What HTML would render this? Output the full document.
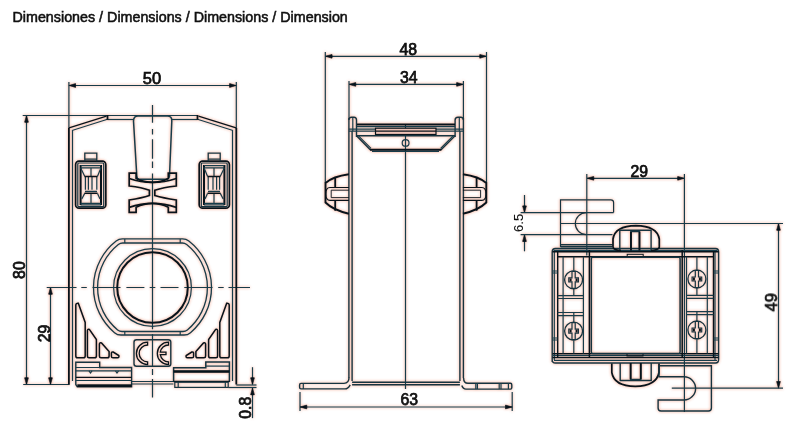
<!DOCTYPE html>
<html><head><meta charset="utf-8">
<style>
html,body{margin:0;padding:0;background:#fff;width:800px;height:435px;overflow:hidden}
svg{position:absolute;left:0;top:0}
text{font-family:"Liberation Sans",sans-serif;fill:#111;stroke:#111;stroke-width:0.75}
.t{fill:none;stroke:#173c4a;stroke-width:1.2}
.m{fill:none;stroke:#163440;stroke-width:1.4}
.k{fill:none;stroke:#08131b;stroke-width:1.8}
</style></head><body>
<svg width="800" height="435" viewBox="0 0 800 435">
<defs>
<marker id="ar" viewBox="-0.5 -0.5 8 5.4" refX="7" refY="2.2" markerWidth="8" markerHeight="5.4" markerUnits="userSpaceOnUse" orient="auto-start-reverse">
<path d="M0.3,0.3 L7,2.2 L0.3,4.1 Q-0.2,2.2 0.3,0.3 z" fill="#08131b" stroke="#08131b" stroke-width="0.6" stroke-linejoin="round"/></marker>
<filter id="halo" x="-2%" y="-2%" width="104%" height="104%" color-interpolation-filters="sRGB">
<feGaussianBlur in="SourceAlpha" stdDeviation="1.5" result="b"/>
<feComponentTransfer in="b" result="b2"><feFuncA type="linear" slope="2.4"/></feComponentTransfer>
<feFlood flood-color="#f7bba8" flood-opacity="0.65"/>
<feComposite in2="b2" operator="in" result="p"/>
<feMerge><feMergeNode in="p"/><feMergeNode in="SourceGraphic"/></feMerge>
</filter>
</defs>
<g filter="url(#halo)">


<!-- ===================== LEFT VIEW ===================== -->
<g class="t">
<!-- dim 50 -->
<line x1="68.9" y1="85.5" x2="236.3" y2="85.5" marker-start="url(#ar)" marker-end="url(#ar)"/>
<line x1="68.9" y1="82" x2="68.9" y2="128"/>
<line x1="236.3" y1="82" x2="236.3" y2="128"/>
<!-- dim 80 -->
<line x1="26.5" y1="115.5" x2="26.5" y2="384.5" marker-start="url(#ar)" marker-end="url(#ar)"/>
<line x1="22.7" y1="115.5" x2="107.5" y2="115.5"/>
<line x1="107.5" y1="115.5" x2="197.5" y2="115.5"/>
<line x1="23.2" y1="384.5" x2="69.5" y2="384.5"/>
<!-- dim 29 -->
<line x1="50.5" y1="287.5" x2="50.5" y2="384.5" marker-start="url(#ar)" marker-end="url(#ar)"/>
<path d="M46.7,287.5 H76.5 M81.3,287.5 H86.8 M92.5,287.5 H120.5 M126.4,287.5 H144.4 M149.7,287.5 H155.3 M160.5,287.5 H178.5 M184.3,287.5 H212.5 M218.2,287.5 H223.7 M228.5,287.5 H250"/>
<!-- vertical centre line -->
<path d="M152.5,105 V122.8 M152.5,129 V134.5 M152.5,139.3 V158.7 M152.5,161.5 V168 M152.5,173.4 V329.3 M152.5,334 V366 M152.5,369 V375 M152.5,379 V397.5"/>
<!-- body inner -->
<line x1="72.5" y1="130.3" x2="72.5" y2="381"/>
<line x1="232.5" y1="130.3" x2="232.5" y2="381"/>
<line x1="72" y1="130.5" x2="107.5" y2="119.3"/>
<line x1="233" y1="130.5" x2="197.5" y2="119.3"/>
<line x1="107.5" y1="119.5" x2="133" y2="119.5"/>
<line x1="172" y1="119.5" x2="197.5" y2="119.5"/>
<!-- tab -->
<path style="stroke-width:1.5" d="M133.5,121 Q133.5,116 138,116 L167.5,116 Q172,116 171.8,121 L169.5,176 Q169,179.3 166,179.3 L139.5,179.3 Q137,179.3 136.8,176 Z"/>
<!-- ring -->
<path d="M122.32,238.90 H182.68 A10,10 0 0 1 188.84,241.02 A59,59 0 0 1 190.48,332.65 A10,10 0 0 1 184.04,335.00 H120.96 A10,10 0 0 1 114.52,332.65 A59,59 0 0 1 116.16,241.02 A10,10 0 0 1 122.32,238.90 Z" style="stroke-width:1.3"/>
<path d="M122.70,243.00 H182.30 A7,7 0 0 1 186.66,244.52 A54.9,54.9 0 0 1 187.37,329.91 A7,7 0 0 1 182.92,331.50 H122.08 A7,7 0 0 1 117.63,329.91 A54.9,54.9 0 0 1 118.34,244.52 A7,7 0 0 1 122.70,243.00 Z" style="stroke-width:1.3"/>
<path d="M124.8,238.9 V243 M180.2,238.9 V243 M124.8,331.5 V335 M180.2,331.5 V335"/>
<circle cx="152.5" cy="287.5" r="38.9"/>
<!-- base lines -->
<line x1="131.6" y1="381.5" x2="173.4" y2="381.5"/>
<line x1="131.6" y1="384" x2="173.4" y2="384"/>
<!-- 0.8 dim -->
<line x1="252.5" y1="367.2" x2="252.5" y2="384.5" marker-end="url(#ar)"/>
<line x1="252.5" y1="418.1" x2="252.5" y2="388" marker-end="url(#ar)"/>
<line x1="236.3" y1="385" x2="256.5" y2="385"/>
<line x1="228.4" y1="387.5" x2="256.5" y2="387.5"/>
</g>
<g class="k">
<!-- body outer -->
<path d="M68.9,128 V384.5"/>
<path d="M236.3,128 V384.5"/>
<line x1="69" y1="127.9" x2="106.5" y2="116.2" style="stroke-width:1.4"/>
<line x1="107.5" y1="115" x2="107.5" y2="119.8"/>
<line x1="236.1" y1="127.9" x2="198.5" y2="116.2" style="stroke-width:1.4"/>
<line x1="197.5" y1="115" x2="197.5" y2="119.8"/>
<!-- hole -->
<circle cx="152.5" cy="287.5" r="35.3" style="stroke-width:2"/>
<!-- X clip -->
<path d="M129.2,173.2 H136.1 V178.5 Q152.5,186.3 168.3,178.5 V173.2 H176.3 V186 Q163,187.5 154.8,190.2 V195.5 Q163,198 176.3,200 V212.3 H168.3 V207.3 Q152.5,199.6 136.1,207.3 V212.3 H129.2 V200 Q142,198 149.4,195.5 V190.2 Q142,187.5 129.2,186 Z" style="stroke-width:1.7"/>
<path d="M129.2,178.5 Q152.5,186.3 176.3,178.5" style="stroke-width:1.8"/>
<path d="M129.2,207.3 Q152.5,199.6 176.3,207.3" style="stroke-width:1.8"/>
</g>
<!-- terminals -->
<g id="term">
<rect class="k" x="75.6" y="161.2" width="30.2" height="47" rx="3.5" style="stroke-width:1.7"/>
<rect class="m" x="77.8" y="163" width="25.9" height="43.7" rx="1" style="stroke-width:1.2"/>
<path class="m" d="M84.8,161.2 V153.2 H96.8 V161.2 M84.8,159.2 H96.8" style="stroke-width:1.3"/>
<path class="k" d="M80.6,165 V205 M101,165 V205" style="stroke-width:2"/>
<path class="t" d="M80.6,165.6 H101 M80.6,167.8 H101 L97.5,176.3 M80.6,167.8 L84.7,176.3 M85.4,176.3 V189.8 M96.8,176.3 V189.8 M88.4,176.3 V189.8 M92,176.3 V189.8 M85,191.3 H97 M80.6,203.3 H101 M80.6,204.8 H101 M84.7,193.4 L81.8,199 M97.5,193.4 L100,199 M91,167.8 V176.3 M91,193.4 V204"/>
<path class="k" d="M84.5,176.5 H97.5 M84.5,193.3 H97.5" style="stroke-width:1.5"/>
</g>
<use href="#term" transform="translate(305,0) scale(-1,1)"/>
<!-- ribs -->
<g id="ribs" class="k" style="stroke-width:1.5">
<path d="M75.8,356 V305 Q76,303 78.3,303.3 L85.2,322.4 V356 Q85.2,357.8 83.5,357.8 H77.5 Q75.8,357.8 75.8,356 Z"/>
<path d="M87.4,356 V330.5 Q87.6,328.8 89.5,329.5 L96.4,339.6 V356 Q96.4,357.8 94.7,357.8 H89 Q87.4,357.8 87.4,356 Z"/>
<path d="M99.4,356 V344 Q99.6,342.3 101.5,343 L109.1,351.6 V356 Q109.1,357.8 107.4,357.8 H101 Q99.4,357.8 99.4,356 Z"/>
<path d="M111.4,356.2 V353 Q111.6,351.6 113.2,352 L118.8,355.5 Q119.5,357.8 117.5,357.8 H113 Q111.4,357.8 111.4,356.2 Z"/>
</g>
<use href="#ribs" transform="translate(305,0) scale(-1,1)"/>
<!-- CE -->
<rect class="m" x="134" y="339.7" width="36.8" height="26.5" rx="2.5"/>
<path class="k" style="stroke-width:1.3" d="M147.6,342.2 A11.2,11.2 0 0 0 147.6,364.6 L147.6,361.8 A8.4,8.4 0 0 1 147.6,345 Z"/>
<path class="k" style="stroke-width:1.3" d="M168.5,342.2 A11.2,11.2 0 0 0 168.5,364.6 L168.5,361.8 A8.4,8.4 0 0 1 160.3,354.6 L166,354.6 L166,352.2 L160.3,352.2 A8.4,8.4 0 0 1 168.5,345 Z"/>
<!-- feet -->
<g id="foot">
<path class="m" d="M75.8,384.5 V362.3 H99.7 V367.5 H131.6 V386.8 H77.3 Z"/>
<path class="t" d="M75.8,367.5 H99.7 M75.8,370.8 H131.6 M75.8,380.5 H131.6"/>
<path class="k" d="M76,377.3 H131.6" style="stroke-width:1.3"/>
<rect x="77.3" y="384.3" width="54.3" height="2.7" fill="#08131b" stroke="none"/>
<path class="t" d="M89,370.8 L90.5,373 L92,370.8 M115.5,370.8 L117,373 L118.5,370.8"/>
</g>
<path class="m" d="M173.6,382 V367.8 H205.8 V362 H229.4 V382" style="stroke-width:1.5"/>
<path class="t" d="M205.8,366.1 H229.4"/>
<rect x="173.6" y="370.2" width="55.8" height="2.6" fill="#08131b" stroke="none"/>
<path class="k" d="M173.6,381.6 H229.4" style="stroke-width:1.5"/>
<rect class="m" x="174.8" y="382.2" width="53.4" height="5.2" style="stroke-width:1.2"/>
<path class="t" d="M178.2,382 V387.4 M225.3,382 V387.4"/>

<!-- ===================== MIDDLE VIEW ===================== -->
<g class="t">
<line x1="325.3" y1="56.3" x2="486.5" y2="56.3" marker-start="url(#ar)" marker-end="url(#ar)"/>
<line x1="325.3" y1="52" x2="325.3" y2="183"/>
<line x1="486.5" y1="52" x2="486.5" y2="183"/>
<line x1="349" y1="84.4" x2="463.4" y2="84.4" marker-start="url(#ar)" marker-end="url(#ar)"/>
<line x1="349" y1="81" x2="349" y2="118"/>
<line x1="463.4" y1="81" x2="463.4" y2="118"/>
<line x1="405.5" y1="125" x2="405.5" y2="389"/>
<line x1="300" y1="392" x2="300" y2="411"/>
<line x1="512.2" y1="392" x2="512.2" y2="411"/>
<line x1="300" y1="407" x2="512.2" y2="407" marker-start="url(#ar)" marker-end="url(#ar)"/>
</g>
<g class="m">
<line x1="348.9" y1="118" x2="348.9" y2="378"/>
<line x1="352.1" y1="131" x2="352.1" y2="381"/>
<line x1="459.9" y1="131" x2="459.9" y2="381"/>
<line x1="463.4" y1="118" x2="463.4" y2="378"/>
<!-- tabs -->
<path d="M348.9,120 Q348.9,117.2 351.5,117.2 L354,117.2 Q356.5,117.2 356.5,120 V137"/>
<path d="M463.4,120 Q463.4,117.2 460.8,117.2 L458,117.2 Q455.1,117.2 455.1,120 V137"/>
<path class="t" d="M352.8,118 V131 M459.3,118 V131 M348.9,129.1 H356.5 M348.9,131.2 H356.5 M455.1,129.1 H463.4 M455.1,131.2 H463.4"/>
<!-- header -->
<path class="t" d="M356.5,129.1 H375.5 M436,129.1 H455.1 M356.5,131.2 H375.5 M436,131.2 H455.1 M357,126.6 H455"/>
<rect x="375.5" y="128.2" width="60.5" height="6.3" fill="#eec2b6" stroke="#08131b" style="stroke-width:1.2"/>
<path class="k" d="M375.5,131.2 H436" style="stroke-width:1.2"/>
<path d="M356.5,135.8 H455.1"/>
<path class="k" d="M357,124.6 H455" style="stroke-width:2"/>
<path d="M356.5,135.8 L370,149.6 H441.3 L455.1,135.8"/>
<path class="t" d="M358.5,135.8 L371,148.3 M453.1,135.8 L440.6,148.3"/>
<path class="k" d="M370,149.8 H441.3" style="stroke-width:1.9"/>
<path class="t" d="M372,151.4 H439"/>
<ellipse class="t" cx="405.6" cy="142.9" rx="3.4" ry="3.3"/>
<!-- base -->
<path d="M352.1,382.2 H459.9 M352.1,384.8 H459.9"/>
<path d="M349,377.6 Q349,383.4 344,383.4 H301 Q299.6,383.4 299.6,385 V387.3 Q299.6,388.9 301,388.9 H345 Q348,388.9 350.2,384.8"/>
<path d="M463.6,378 Q463.6,383.3 468,383.3 H510.5 Q511.8,383.3 511.8,385 V387.5 Q511.8,389.1 510.5,389.1 H466 Q463,389.1 461.8,385.5"/>
<path class="t" d="M303.3,383.4 V388.9 M475.8,383.3 V389.1 M477.4,383.3 V389.1 M499.2,383.3 V389.1 M501,383.3 V389.1 M508.4,383.3 V389.1"/>
</g>
<!-- side clips -->
<g id="clipL">
<path class="k" d="M348.9,174.3 Q333,176.5 325.5,183 V202.5 Q333,210 348.9,213.7" style="stroke-width:1.9"/>
<path class="k" d="M335.2,178 V187.6 M335.2,200.3 V210.8" style="stroke-width:1.8"/>
<path class="k" d="M348.9,187.5 H330 Q325.8,187.5 325.8,193.9 Q325.8,200.3 330,200.3 H348.9" style="stroke-width:1.15"/>
<path class="k" d="M331.2,190.2 H348.9 M331.2,197.6 H348.9 M331.2,190.2 V197.6" style="stroke-width:0.9"/>
</g>
<use href="#clipL" transform="translate(811.8,0) scale(-1,1)"/>

<!-- ===================== RIGHT VIEW ===================== -->
<g class="t">
<line x1="587" y1="178.3" x2="684.4" y2="178.3" marker-start="url(#ar)" marker-end="url(#ar)"/>
<line x1="586.8" y1="174" x2="586.8" y2="255.5"/>
<line x1="684.4" y1="174" x2="684.4" y2="412"/>
<line x1="524.5" y1="195" x2="524.5" y2="212.6" marker-end="url(#ar)"/>
<line x1="524.5" y1="251.3" x2="524.5" y2="234.7" marker-end="url(#ar)"/>
<line x1="520.6" y1="212.6" x2="613.6" y2="212.6"/>
<line x1="520.6" y1="234.6" x2="612.5" y2="234.6"/>
<line x1="778.5" y1="223.5" x2="778.5" y2="388.2" marker-start="url(#ar)" marker-end="url(#ar)"/>
<line x1="561" y1="223.5" x2="783" y2="223.5"/>
<line x1="671.8" y1="388.2" x2="783" y2="388.2"/>
</g>
<g class="m">
<!-- top hook plate -->
<path style="stroke-width:1.2" d="M560.5,247 V199.8 H610.8 Q613.6,199.8 613.6,202.6 V212.6"/>
<path style="stroke-width:1.2" d="M586.3,212.6 A11,11 0 0 0 586.3,234.6"/>
<path d="M560.5,244.7 H612.5 M560.5,246.7 H612.5"/>
<!-- body -->
<path d="M552.2,362 V252 Q552.2,248.5 555.5,248.5 H715.5 Q718.6,248.5 718.6,252 V359.5 Q718.6,363 715.5,363 H555.5 Q552.2,363 552.2,360"/>
<path class="t" d="M553.5,250.3 H717.5 M553,355.5 H718 M554,360.3 H717 M554.3,252 V360 M715,252 V360"/>
</g>
<g class="k">
<path d="M552.5,251.8 H718.5 M557.7,256.8 H714 M557.7,251.8 V357.5 M713.5,251.8 V357.5 M552.5,357.5 H718.5 M552.5,353.8 H718.5" style="stroke-width:1.4"/>
<rect x="627.2" y="254.3" width="16" height="2.5" style="stroke-width:1"/>
<rect x="627" y="353.5" width="16" height="2.5" style="stroke-width:1"/>
</g>
<g class="m">
<!-- window -->
<rect x="591.3" y="257.3" width="88.8" height="96.2" rx="1.5" style="stroke-width:1.5"/>
<path class="k" d="M589.4,250 V358 M682.2,250 V358" style="stroke-width:1.5"/>
<!-- terminal columns -->
<path class="t" d="M563.1,256.8 V353.5 M583.4,256.8 V353.5 M573.8,256.8 V270.5 M573.8,289 V296 M573.8,312.5 V322 M573.8,340.5 V353.5"/>
<path class="t" d="M686.5,256.8 V353.5 M707.3,256.8 V353.5 M696.9,256.8 V269.8 M696.9,288 V295.5 M696.9,311.6 V321 M696.9,339.5 V353.5"/>
<path class="t" d="M557.7,295.6 H583.4 M557.7,298.5 H583.4 M557.7,312.5 H583.4 M557.7,315.7 H583.4"/>
<path class="t" d="M686.5,295.3 H713.5 M686.5,298.3 H713.5 M686.5,311.6 H713.5 M686.5,314.6 H713.5"/>
<path class="t" d="M552.5,271 H557.7 M552.5,273 H557.7 M552.5,338 H557.7 M552.5,340 H557.7 M713.5,271 H718.5 M713.5,273 H718.5 M713.5,338 H718.5 M713.5,340 H718.5"/>
</g>
<g id="screw">
<circle class="m" cx="573.6" cy="279.8" r="9" style="stroke-width:1.3"/>
<path class="m" d="M572,271.3 H575.2 V277.8 H578.4 V281.8 H575.2 V288.3 H572 V281.8 H568.8 V277.8 H572 Z" style="stroke-width:1.2"/>
<path class="k" d="M569.6,279.8 H571.6 M575.6,279.8 H577.6" style="stroke-width:2.8"/>
</g>
<use href="#screw" transform="translate(0,51.3)"/>
<use href="#screw" transform="translate(123.3,-0.8)"/>
<use href="#screw" transform="translate(123.3,50.2)"/>
<!-- knob top -->
<path class="k" d="M613,247.5 V239 Q615,226 635.9,225.7 Q657,226 659.3,239 V247.5 Q657,250.5 651,250.5 M613,247.5 Q615,250.5 621,250.5" style="stroke-width:1.7"/>
<path class="m" d="M619.8,250 V230.3 H651.1 V250 M630.8,250.5 V231.5 H639.6 V250.5"/>
<path class="k" d="M631,232 V250.5 M639.4,232 V250.5" style="stroke-width:1.8"/>
<!-- knob bottom -->
<path class="k" d="M611.8,363.5 V372.5 Q614,386 635.3,386.4 Q656.5,386 659,372.5 V363.5" style="stroke-width:1.7"/>
<path class="m" d="M620.2,363 V380.5 H651.2 V363 M630.5,363 V379.5 H640.9 V363"/>
<path class="k" d="M630.7,363 V379 M640.7,363 V379" style="stroke-width:1.8"/>
<!-- bottom hook -->
<path class="m" d="M659,365.8 H711.4 V408 Q711.4,411 708.4,411 H661 Q658.1,411 658.1,408 V400 H684 A11.6,11.6 0 0 0 684,376.8 H659 V365.8"/>
</g>

</g>
<!-- dimension texts -->
<text x="12.5" y="21.5" font-size="14.3" style="stroke-width:0.55">Dimensiones / Dimensions / Dimensions / Dimension</text>
<text x="152" y="83.7" font-size="16.5" text-anchor="middle">50</text>
<text x="408.3" y="55" font-size="15.8" text-anchor="middle">48</text>
<text x="408.8" y="83.2" font-size="15.8" text-anchor="middle">34</text>
<text x="409.2" y="405" font-size="15.8" text-anchor="middle">63</text>
<text x="639.3" y="177" font-size="15.8" text-anchor="middle">29</text>
<text transform="translate(24.6,270.1) rotate(-90)" font-size="15.8" text-anchor="middle">80</text>
<text transform="translate(50.2,333.4) rotate(-90)" font-size="15.8" text-anchor="middle">29</text>
<text transform="translate(250.8,407.7) rotate(-90)" font-size="15.8" text-anchor="middle">0.8</text>
<text transform="translate(523.2,222.8) rotate(-90)" font-size="13.2" style="stroke-width:0.1" text-anchor="middle">6.5</text>
<text transform="translate(776.9,302.3) rotate(-90)" font-size="16.5" text-anchor="middle">49</text>
</svg>
</body></html>
